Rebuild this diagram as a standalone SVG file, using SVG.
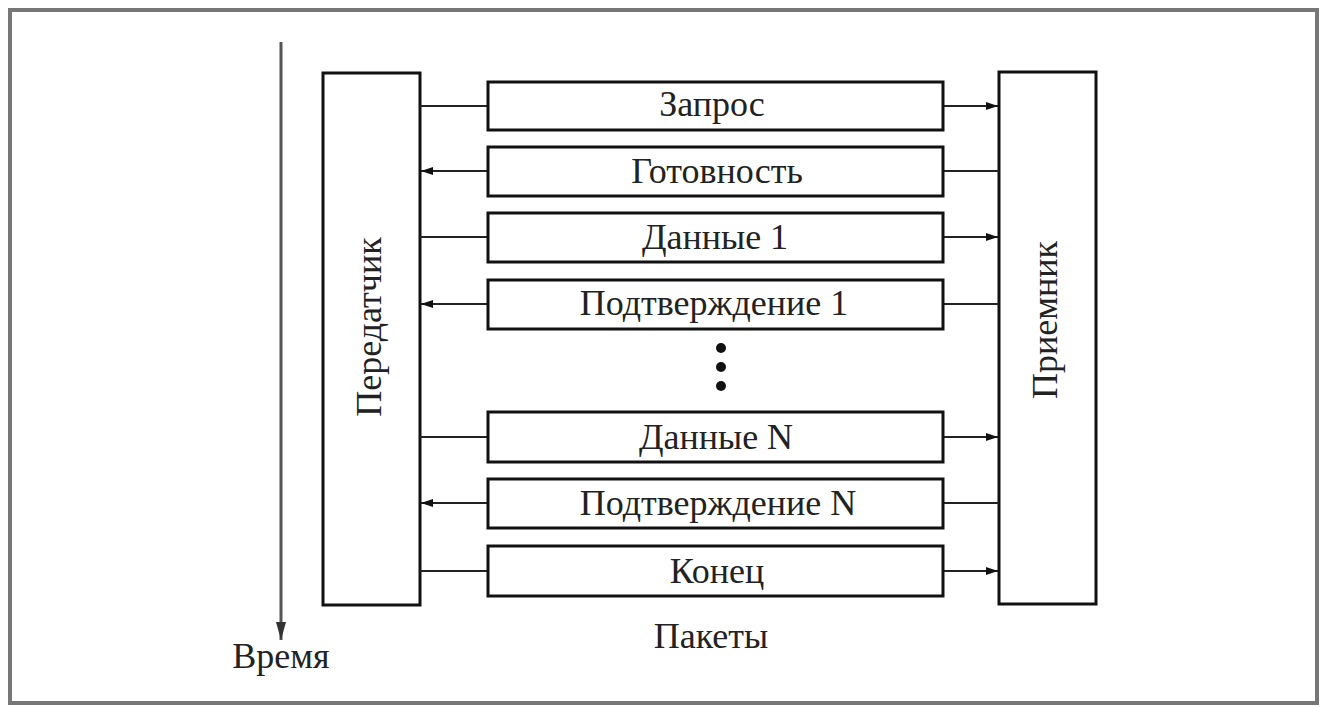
<svg xmlns="http://www.w3.org/2000/svg" width="1324" height="707" viewBox="0 0 1324 707">
<defs>
<style>
.box{fill:#fff;stroke:#111;stroke-width:3}
.pk{fill:#fff;stroke:#111;stroke-width:3}
.ln{stroke:#222;stroke-width:2.2;fill:none}
.t{font-family:"Liberation Serif","Times New Roman",serif;font-size:36px;fill:#222;text-anchor:middle}
</style>
<marker id="ah" viewBox="0 0 12 8" refX="12" refY="4" markerWidth="12" markerHeight="8" markerUnits="userSpaceOnUse" orient="auto">
<path d="M0,0 L12,4 L0,8 Z" fill="#111"/>
</marker>
</defs>
<rect width="1324" height="707" fill="#fff"/>
<rect x="10" y="10" width="1307" height="693" fill="none" stroke="#777" stroke-width="4"/>

<g id="time">
<line x1="281" y1="42" x2="281" y2="640" stroke="#555" stroke-width="3"/>
<path d="M276,622 L286,622 L281,640 Z" fill="#333"/>
<text class="t" x="281" y="668">Время</text>
</g>

<g id="transmitter">
<rect class="box" x="323" y="73" width="97" height="532"/>
<text class="t" transform="translate(381,327) rotate(-90)">Передатчик</text>
</g>

<g id="receiver">
<rect class="box" x="999" y="72" width="97" height="532"/>
<text class="t" transform="translate(1057,320) rotate(-90)">Приемник</text>
</g>

<g id="connectors">
<line class="ln" x1="420" y1="106" x2="488" y2="106"/>
<line class="ln" x1="943" y1="106" x2="998" y2="106" marker-end="url(#ah)"/>
<line class="ln" x1="488" y1="171" x2="421" y2="171" marker-end="url(#ah)"/>
<line class="ln" x1="943" y1="171" x2="999" y2="171"/>
<line class="ln" x1="420" y1="237" x2="488" y2="237"/>
<line class="ln" x1="943" y1="237" x2="998" y2="237" marker-end="url(#ah)"/>
<line class="ln" x1="488" y1="304" x2="421" y2="304" marker-end="url(#ah)"/>
<line class="ln" x1="943" y1="304" x2="999" y2="304"/>
<line class="ln" x1="420" y1="437" x2="488" y2="437"/>
<line class="ln" x1="943" y1="437" x2="998" y2="437" marker-end="url(#ah)"/>
<line class="ln" x1="488" y1="503" x2="421" y2="503" marker-end="url(#ah)"/>
<line class="ln" x1="943" y1="503" x2="999" y2="503"/>
<line class="ln" x1="420" y1="571" x2="488" y2="571"/>
<line class="ln" x1="943" y1="571" x2="998" y2="571" marker-end="url(#ah)"/>
</g>

<g id="p1"><rect class="pk" x="488" y="82" width="455" height="48"/><text class="t" x="712" y="116">Запрос</text></g>
<g id="p2"><rect class="pk" x="488" y="147" width="455" height="49"/><text class="t" x="717" y="183">Готовность</text></g>
<g id="p3"><rect class="pk" x="488" y="213" width="455" height="49"/><text class="t" x="715" y="249">Данные 1</text></g>
<g id="p4"><rect class="pk" x="488" y="280" width="455" height="49"/><text class="t" x="714" y="315">Подтверждение 1</text></g>
<g id="dots">
<circle cx="721" cy="348" r="5" fill="#111"/>
<circle cx="721" cy="367" r="5" fill="#111"/>
<circle cx="721" cy="386" r="5" fill="#111"/>
</g>
<g id="p5"><rect class="pk" x="488" y="412" width="455" height="50"/><text class="t" x="716" y="449">Данные N</text></g>
<g id="p6"><rect class="pk" x="488" y="479" width="455" height="49"/><text class="t" x="718" y="515">Подтверждение N</text></g>
<g id="p7"><rect class="pk" x="488" y="546" width="455" height="50"/><text class="t" x="717" y="583">Конец</text></g>

<text class="t" x="711" y="648">Пакеты</text>
</svg>
